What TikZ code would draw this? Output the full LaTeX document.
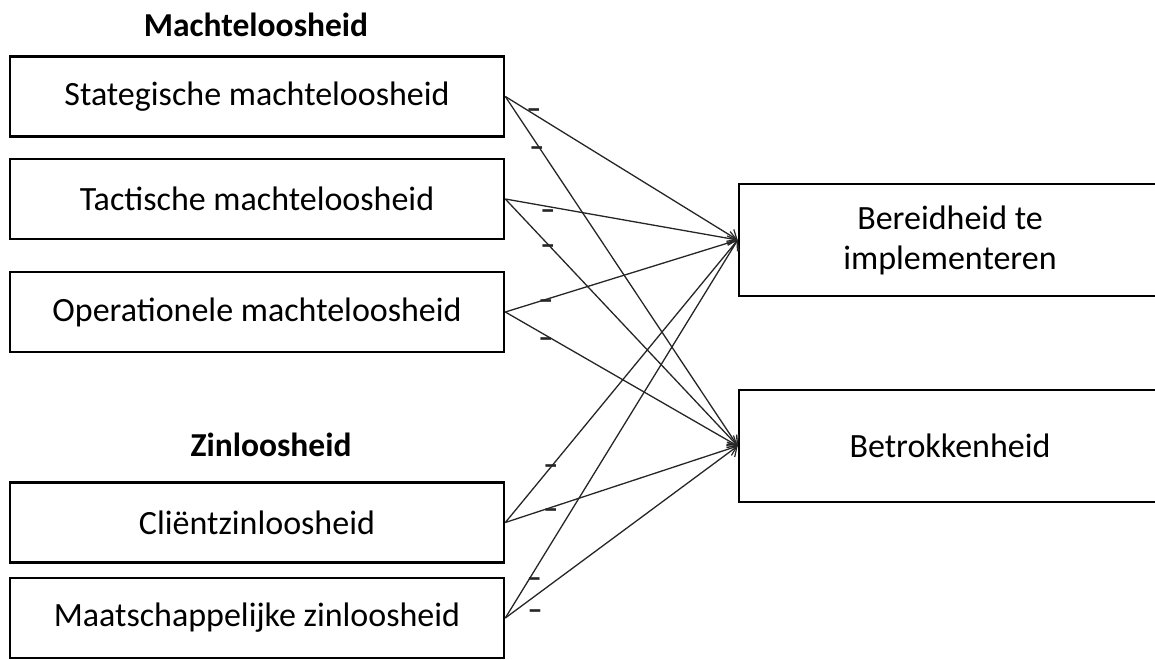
\documentclass[tikz,border=0pt]{standalone}
\usepackage{fontspec}
\setmainfont{Carlito}
\usetikzlibrary{arrows.meta,positioning}

\begin{document}
\begin{tikzpicture}[x=1pt, y=-1pt,
  lbox/.style={rectangle, draw, line width=2.6pt, minimum width=494pt, minimum height=80pt, inner sep=0pt, font=\fontsize{34}{40}\selectfont, align=center},
  rbox/.style={lbox, minimum width=422pt, minimum height=112pt},
  ttl/.style={font=\fontsize{33.5}{40}\selectfont\bfseries},
  arr/.style={-{Straight Barb[length=8pt, width=14pt, line width=1.2pt]}, line width=1.3pt, black!85},
  neg/.style={font=\fontsize{30}{30}\selectfont\bfseries, inner sep=0pt, text height=0pt, text depth=0pt}
]
  \useasboundingbox (0,0) rectangle (1155,659);
  % groups
  \node[ttl] (tm) at (256,25) {Machteloosheid};
  \node[ttl] (tz) at (271,445) {Zinloosheid};
  % predictors
  \node[lbox] (s1) at (257,96.5) {Stategische machteloosheid};
  \node[lbox] (s2) at (257,199) {Tactische machteloosheid};
  \node[lbox] (s3) at (257,312) {Operationele machteloosheid};
  \node[lbox] (s4) at (257,522.5) {Cliëntzinloosheid};
  \node[lbox] (s5) at (257,618) {Maatschappelijke zinloosheid};
  % outcomes
  \node[rbox] (r1) at (950,240) {Bereidheid te\\implementeren};
  \node[rbox] (r2) at (950,446) {Betrokkenheid};
  % paths with negative sign
  \foreach \s/\t/\p/\dx/\dy in {s1/r1/0.123/0/6, s1/r2/0.136/0/-2, s2/r1/0.183/0/-2, s2/r2/0.183/0/0,
    s3/r1/0.174/0/0, s3/r2/0.174/0/-2, s4/r1/0.196/0/3, s4/r2/0.196/0/0,
    s5/r1/0.108/4/0, s5/r2/0.128/0/-13}
    \draw[arr] (\s.east) -- (\t.west) node[neg, pos=\p, xshift=\dx pt, yshift={\dy pt-10.5pt}] {\textendash};
\end{tikzpicture}
\end{document}
